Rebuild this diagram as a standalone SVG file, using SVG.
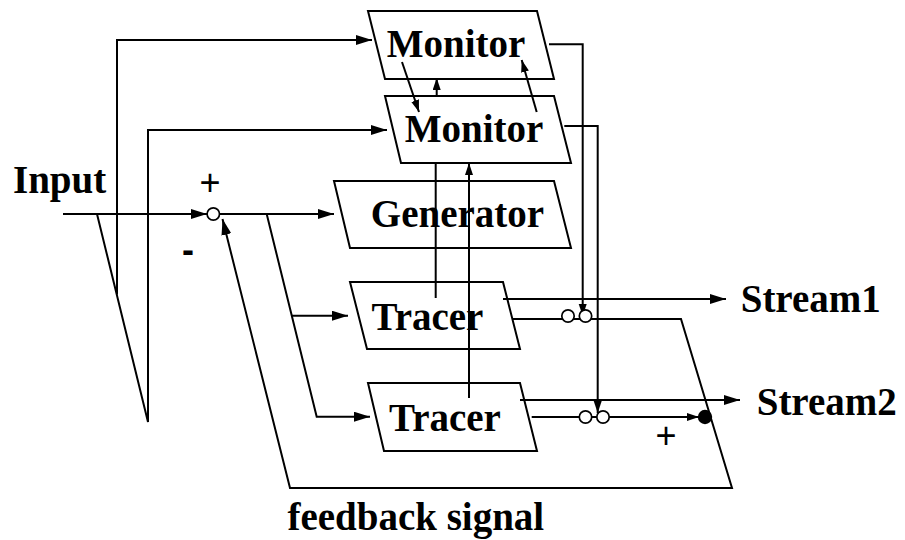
<svg xmlns="http://www.w3.org/2000/svg" width="905" height="540" viewBox="0 0 905 540">
  <defs>
    <marker id="arr" markerUnits="userSpaceOnUse" markerWidth="17" markerHeight="11" refX="16" refY="5" orient="auto">
      <path d="M0,0 L16,5 L0,10 z" fill="#000"/>
    </marker>
    <marker id="arrS" markerUnits="userSpaceOnUse" markerWidth="13" markerHeight="9" refX="12" refY="4" orient="auto">
      <path d="M0,0 L12,4 L0,8 z" fill="#000"/>
    </marker>
  </defs>
  <style>
    .box { fill: #fff; stroke: #000; stroke-width: 2; }
    .lbl { font-family: "Liberation Serif", "Times New Roman", serif; font-weight: bold; font-size: 39px; fill: #000; }
    .sign { font-family: "Liberation Sans", Arial, sans-serif; font-size: 36px; fill: #000; }
    .ln { fill: none; stroke: #000; stroke-width: 2; }
    .ring { fill: #fff; stroke: #000; stroke-width: 1.7; }
  </style>
  <rect width="905" height="540" fill="#fff"/>

  <!-- blocks -->
  <g id="monitor1">
    <polygon class="box" points="368,11 537,11 554,79 385,79"/>
    <text class="lbl" x="456" y="57" text-anchor="middle">Monitor</text>
  </g>
  <g id="monitor2">
    <polygon class="box" points="385,96 554,96 571,163 401,163"/>
    <text class="lbl" x="474" y="142" text-anchor="middle">Monitor</text>
  </g>
  <g id="generator">
    <polygon class="box" points="334,181 554,181 571,248 350,248"/>
    <text class="lbl" x="457.5" y="227" text-anchor="middle">Generator</text>
  </g>
  <g id="tracer1">
    <polygon class="box" points="350,282 503,282 520,349 367,349"/>
    <text class="lbl" x="427.5" y="330" text-anchor="middle">Tracer</text>
  </g>
  <g id="tracer2">
    <polygon class="box" points="368,383 520,383 537,451 384,451"/>
    <text class="lbl" x="445" y="431" text-anchor="middle">Tracer</text>
  </g>

  <!-- summing junction -->
  <g id="sum">
    <circle class="ring" cx="213.3" cy="214" r="6.2"/>
    <text class="sign" x="210" y="195" text-anchor="middle">+</text>
    <text class="sign" x="188" y="262" text-anchor="middle" font-weight="bold">-</text>
  </g>

  <!-- output junction -->
  <g id="out-sum">
    <circle cx="705" cy="417" r="7.2" fill="#000"/>
    <text class="sign" x="666" y="448" text-anchor="middle">+</text>
  </g>

  <!-- connectors -->
  <g id="connectors">
    <!-- input into the summing junction -->
    <line class="ln" x1="63" y1="214" x2="207" y2="214" marker-end="url(#arr)"/>
    <!-- input taps to the monitors -->
    <polyline class="ln" points="97,214 148,422 148,130 387,130" marker-end="url(#arr)"/>
    <polyline class="ln" points="117,294.5 117,40 372,40" marker-end="url(#arr)"/>
    <!-- error signal to generator and tracers -->
    <line class="ln" x1="219.5" y1="214" x2="334" y2="214" marker-end="url(#arr)"/>
    <polyline class="ln" points="266.7,214 316.7,416.7 370,416.7" marker-end="url(#arr)"/>
    <line class="ln" x1="291.7" y1="315.7" x2="348" y2="315.7" marker-end="url(#arr)"/>
    <!-- feedback loop -->
    <polyline class="ln" points="513,319 681,319 732,488 290,488 222.5,219" marker-end="url(#arr)"/>
    <!-- monitor cross links -->
    <line class="ln" x1="402" y1="62" x2="419" y2="112" marker-end="url(#arrS)"/>
    <line class="ln" x1="436.7" y1="96" x2="436.7" y2="78" marker-end="url(#arrS)"/>
    <line class="ln" x1="536.7" y1="112" x2="521.7" y2="60" marker-end="url(#arrS)"/>
    <!-- tracer to monitor -->
    <line class="ln" x1="435.7" y1="298" x2="435.7" y2="163"/>
    <line class="ln" x1="469" y1="398" x2="469" y2="163" marker-end="url(#arrS)"/>
    <!-- monitor outputs down to the switches -->
    <polyline class="ln" points="549,44.3 582.7,44.3 582.7,316" marker-end="url(#arrS)"/>
    <polyline class="ln" points="564.3,126 597.7,126 597.7,413" marker-end="url(#arrS)"/>
    <!-- streams -->
    <line class="ln" x1="503" y1="299" x2="726" y2="299" marker-end="url(#arr)"/>
    <line class="ln" x1="520" y1="400" x2="740" y2="400" marker-end="url(#arr)"/>
    <line class="ln" x1="531.7" y1="417" x2="699" y2="417" marker-end="url(#arrS)"/>
    <!-- switch rings -->
    <circle class="ring" cx="568" cy="316" r="6.2"/>
    <circle class="ring" cx="585.5" cy="316" r="6.2"/>
    <circle class="ring" cx="585.5" cy="417" r="6.2"/>
    <circle class="ring" cx="603" cy="417" r="6.2"/>
  </g>

  <!-- labels -->
  <text class="lbl" x="13" y="193">Input</text>
  <text class="lbl" x="740.7" y="312">Stream1</text>
  <text class="lbl" x="756.7" y="415">Stream2</text>
  <text class="lbl" x="415.8" y="530" text-anchor="middle">feedback signal</text>
</svg>
